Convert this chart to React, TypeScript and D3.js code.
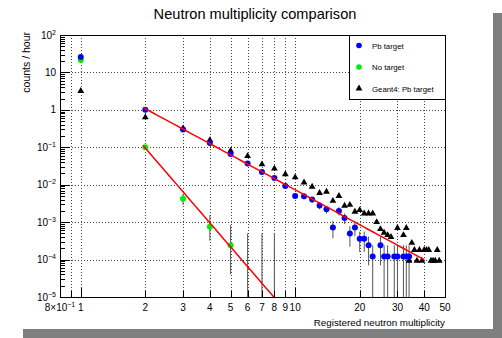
import React from 'react';
import * as d3 from 'd3';

const W = 502;
const H = 338;

// Pb target (measured)
const pbX = [1, 2, 3, 4, 5, 6, 7, 8, 9, 10, 11, 12, 13, 14, 15, 16, 17, 18, 19, 20, 21, 22, 23, 25, 26, 27, 29, 30, 32, 33, 34];
const pbRate = [26, 1.0, 0.30, 0.13, 0.066, 0.037, 0.022, 0.015, 0.0093, 0.005, 0.0049, 0.0040, 0.0028, 0.0022, 0.00072, 0.0020, 0.0013, 0.0005, 0.00072, 0.00036, 0.00036, 0.00024, 0.00012, 0.00024, 0.00012, 0.00012, 0.00012, 0.00012, 0.00012, 0.00012, 0.00012];
const pbErr = [0.5, 0.011, 0.006, 0.004, 0.0028, 0.0021, 0.0016, 0.0013, 0.0011, 0.0008, 0.0008, 0.0007, 0.0006, 0.0005, 0.00035, 0.0005, 0.0004, 0.00028, 0.0003, 0.0002, 0.0002, 0.00017, 0.00012, 0.00017, 0.00012, 0.00012, 0.00012, 0.00012, 0.00012, 0.00012, 0.00012];

// No target (measured), zero bins only show their upper error
const noX = [1, 2, 3, 4, 5, 6, 7, 8];
const noRate = [21.5, 0.1, 0.0042, 0.00075, 0.00024, 0, 0, 0];
const noErrLo = [0.5, 0.004, 0.0013, 0.00043, 0.0002, 0, 0, 0];
const noErrHi = [0.5, 0.004, 0.0013, 0.0008, 0.0006, 0.0005, 0.0005, 0.0005];

// Geant4: Pb target
const g4X = [1, 2, 3, 4, 5, 6, 7, 8, 9, 10, 11, 12, 13, 14, 15, 16, 17, 18, 19, 20, 21, 22, 23, 24, 25, 26, 27, 28, 30, 32, 33, 34, 35, 36, 37, 38, 39, 40, 41, 42, 43, 44, 45, 46, 47];
const g4Rate = [3.2, 0.63, 0.32, 0.155, 0.081, 0.058, 0.035, 0.027, 0.019, 0.0157, 0.0115, 0.0088, 0.006, 0.0065, 0.0037, 0.005, 0.00275, 0.0029, 0.0019, 0.0021, 0.0017, 0.0017, 0.0017, 0.001, 0.00065, 0.00052, 0.00045, 0.0004, 0.0007, 0.00045, 0.0007, 0.000093, 0.00028, 0.00018, 0.000093, 0.00018, 0.000093, 0.00018, 0.00018, 0.00018, 0.000093, 0.000093, 0.000093, 0.00018, 0.000093];

// power-law fits: rate = norm * x^slope
const fits = [
  { norm: 9.2, slope: -3.10, xmin: 1.95, xmax: 40 },
  { norm: 9.5, slope: -6.64, xmin: 1.95, xmax: 40 },
];

const xTickLabels = [0.8, 1, 2, 3, 4, 5, 6, 7, 8, 9, 10, 20, 30, 40, 50];
const xGrid = [0.9, 1, 2, 3, 4, 5, 6, 7, 8, 9, 10, 20, 30, 40];
const yDecades = [-5, -4, -3, -2, -1, 0, 1, 2];

const legendItems = [
  { label: 'Pb target', kind: 'circle', color: '#0000ff' },
  { label: 'No target', kind: 'circle', color: '#00ee00' },
  { label: 'Geant4: Pb target', kind: 'triangle', color: '#000000' },
];

const font = 'Liberation Sans, Arial, Helvetica, sans-serif';

export default function App() {
  const left = 60, right = 445, top = 35, bottom = 297;
  const x = d3.scaleLog().domain([0.8, 50]).range([left, right]);
  const y = d3.scaleLog().domain([1e-5, 1e2]).range([bottom, top]);
  const yc = (v: number) => (v <= 0 ? bottom + 20 : Math.min(bottom + 20, y(v)));

  const tri = d3.symbol(d3.symbolTriangle, 20)() as string;

  const fitPath = (f: typeof fits[0]) => {
    const lo = Math.log10(f.xmin), hi = Math.log10(f.xmax);
    const pts = d3.range(0, 61).map(i => {
      const xv = Math.pow(10, lo + (i * (hi - lo)) / 60);
      return [x(xv), y(f.norm * Math.pow(xv, f.slope))] as [number, number];
    });
    return d3.line()(pts) as string;
  };

  const yMinor: number[] = [];
  for (let k = -5; k < 2; k++) for (let j = 2; j <= 9; j++) yMinor.push(j * Math.pow(10, k));

  const xLabel = (v: number) => {
    if (v === 0.8) {
      return (
        <text key={v} x={x(v)} y={311} textAnchor="middle" fontSize={10}>
          8×10<tspan dy={-4} fontSize={7}>−1</tspan>
        </text>
      );
    }
    return (
      <text key={v} x={x(v)} y={311} textAnchor="middle" fontSize={10}>{v}</text>
    );
  };

  const yLabel = (k: number) => {
    const yy = y(Math.pow(10, k)) + 3.5;
    if (k === 0 || k === 1) {
      return <text key={k} x={56} y={yy} textAnchor="end" fontSize={10}>{k === 0 ? '1' : '10'}</text>;
    }
    return (
      <text key={k} x={56} y={yy} textAnchor="end" fontSize={10}>
        10<tspan dy={-4} fontSize={7}>{k < 0 ? '−' + -k : String(k)}</tspan>
      </text>
    );
  };

  return (
    <div style={{ position: 'absolute', left: 0, top: 0 }}>
      <svg width={W} height={H} style={{ display: 'block', fontFamily: font }}>
        <rect x={0} y={0} width={W} height={H} fill="#fff" />
        {/* canvas shadow */}
        <rect x={493} y={13} width={9} height={325} fill="#7f7f7f" />
        <rect x={23} y={329} width={479} height={9} fill="#7f7f7f" />

        <text x={255} y={19} textAnchor="middle" fontSize={14.6}>Neutron multiplicity comparison</text>

        <defs>
          <clipPath id="frame">
            <rect x={left} y={top} width={right - left} height={bottom - top} />
          </clipPath>
        </defs>

        {/* grid */}
        <g stroke="#444" strokeWidth={1} strokeDasharray="1,2">
          {xGrid.map(v => (
            <line key={'gx' + v} x1={Math.round(x(v)) + 0.5} x2={Math.round(x(v)) + 0.5} y1={top} y2={bottom} />
          ))}
          {yDecades.slice(1, -1).map(k => (
            <line key={'gy' + k} x1={left} x2={right} y1={Math.round(y(Math.pow(10, k))) + 0.5} y2={Math.round(y(Math.pow(10, k))) + 0.5} />
          ))}
        </g>

        <g clipPath="url(#frame)">
          {/* error bars */}
          <g stroke="#555" strokeWidth={1}>
            {pbX.map((v, i) => (
              <line key={'pe' + v} x1={x(v)} x2={x(v)} y1={yc(pbRate[i] - pbErr[i])} y2={yc(pbRate[i] + pbErr[i])} />
            ))}
            {noX.map((v, i) => (
              <line key={'ne' + v} x1={x(v)} x2={x(v)} y1={yc(noRate[i] - noErrLo[i])} y2={yc(noRate[i] + noErrHi[i])} />
            ))}
          </g>
          {/* markers */}
          {noX.map((v, i) => noRate[i] > 0 && (
            <circle key={'n' + v} cx={x(v)} cy={y(noRate[i])} r={3} fill="#00ee00" />
          ))}
          {g4X.map((v, i) => (
            <path key={'g' + v} d={tri} transform={`translate(${x(v)},${y(g4Rate[i])})`} fill="#000" />
          ))}
          {pbX.map((v, i) => (
            <circle key={'p' + v} cx={x(v)} cy={y(pbRate[i])} r={3} fill="#0000ff" />
          ))}
          {/* fits */}
          {fits.map((f, i) => (
            <path key={'f' + i} d={fitPath(f)} fill="none" stroke="#ff0000" strokeWidth={1.5} />
          ))}
        </g>

        {/* frame + axes */}
        <rect x={left + 0.5} y={top + 0.5} width={right - left} height={bottom - top} fill="none" stroke="#000" />
        <g stroke="#000" strokeWidth={1}>
          {yDecades.map(k => {
            const yy = Math.round(y(Math.pow(10, k))) + 0.5;
            return <line key={'yt' + k} x1={left} x2={left + 10} y1={yy} y2={yy} />;
          })}
          {yMinor.map(v => {
            const yy = Math.round(y(v)) + 0.5;
            return <line key={'ym' + v} x1={left} x2={left + 5} y1={yy} y2={yy} />;
          })}
          {xTickLabels.map(v => {
            const xx = Math.round(x(v)) + 0.5;
            const len = v === 1 || v === 10 ? 9 : 6;
            return <line key={'xt' + v} x1={xx} x2={xx} y1={bottom} y2={bottom - len} />;
          })}
          <line x1={Math.round(x(0.9)) + 0.5} x2={Math.round(x(0.9)) + 0.5} y1={bottom} y2={bottom - 6} />
        </g>
        {xTickLabels.map(xLabel)}
        {yDecades.map(yLabel)}

        <text x={right} y={326} textAnchor="end" fontSize={9.8}>Registered neutron multiplicity</text>
        <text transform="translate(30,32) rotate(-90)" textAnchor="end" fontSize={10.5}>counts / hour</text>

        {/* legend */}
        <rect x={349.5} y={top + 0.5} width={right - 349} height={64} fill="#fff" stroke="#000" />
        {legendItems.map((it, i) => {
          const cy = 45.5 + i * 21.5;
          return (
            <g key={it.label}>
              {it.kind === 'circle'
                ? <circle cx={359} cy={cy} r={2.8} fill={it.color} />
                : <path d={tri} transform={`translate(359,${cy})`} fill={it.color} />}
              <text x={372} y={cy + 3} fontSize={7.8}>{it.label}</text>
            </g>
          );
        })}
      </svg>
    </div>
  );
}
